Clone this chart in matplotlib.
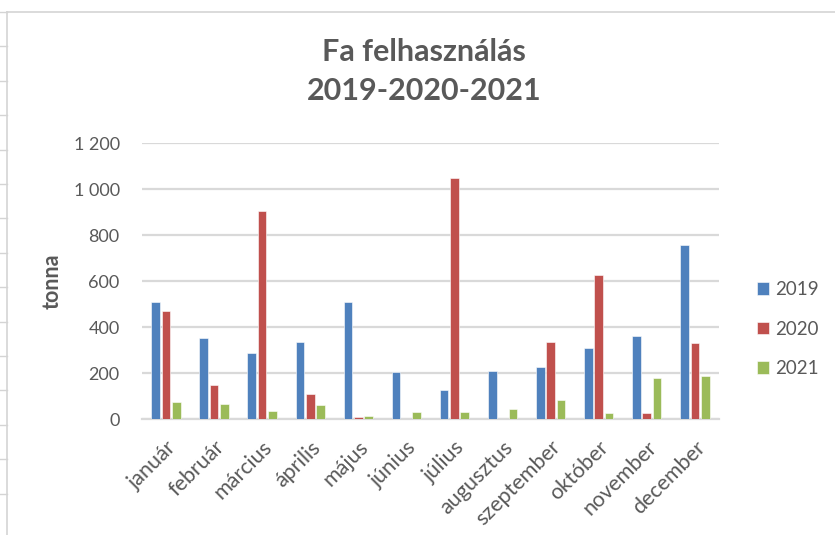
import numpy as np
import matplotlib
matplotlib.use("Agg")
import matplotlib.pyplot as plt
from matplotlib.lines import Line2D

plt.rcParams['font.family'] = ['Lato', 'DejaVu Sans']

# data (tonna)
honapok = ["január", "február", "március", "április", "május", "június",
           "július", "augusztus", "szeptember", "október", "november", "december"]
ev2019 = [510, 352, 288, 336, 510, 206, 126, 210, 226, 310, 362, 758]
ev2020 = [468, 146, 906, 110, 10, 0, 1049, 2, 336, 626, 26, 332]
ev2021 = [72, 67, 36, 62, 14, 30, 30, 42, 84, 24, 178, 188]
evek = ["2019", "2020", "2021"]
szinek = ["#4F81BD", "#C0504D", "#9BBB59"]
yticks = [0, 200, 400, 600, 800, 1000, 1200]

grey = "#595959"
gridc = "#D9D9D9"

fig = plt.figure(figsize=(8.35, 5.35), dpi=100)
ax = fig.add_axes([0.170, 0.2168, 0.691, 0.5159])

x = np.arange(len(honapok))
w = 0.18
step = 0.215
for i, (vals, nev, c) in enumerate(zip([ev2019, ev2020, ev2021], evek, szinek)):
    ax.bar(x + (i - 1) * step, vals, width=w, color=c, label=nev,
           edgecolor="white", linewidth=0.4, zorder=3)

ax.set_xlim(-0.5, len(honapok) - 0.5)
ax.set_ylim(0, 1200)
ax.set_yticks(yticks)
ax.set_yticklabels([f"{v:,}".replace(",", " ") for v in yticks])
ax.yaxis.grid(True, color=gridc, linewidth=1.6, zorder=0)
ax.set_axisbelow(True)
for s in ["top", "right", "left"]:
    ax.spines[s].set_visible(False)
ax.spines["bottom"].set_color(gridc)
ax.spines["bottom"].set_linewidth(1.6)
ax.tick_params(axis="both", length=0, colors=grey, labelsize=13)
ax.tick_params(axis="y", pad=16)
ax.set_xticks(x)
ax.set_xticklabels(honapok, rotation=45, ha="right", va="top",
                   rotation_mode="anchor", fontsize=15.5)
ax.tick_params(axis="x", pad=13)

ax.set_ylabel("tonna", fontsize=15.5, fontweight="bold", color=grey, labelpad=8)

fig.text(0.508, 1 - 52 / 535, "Fa felhasználás", ha="center", va="center",
         fontsize=22, fontweight="bold", color=grey)
fig.text(0.508, 1 - 91 / 535, "2019-2020-2021", ha="center", va="center",
         fontsize=22, fontweight="bold", color=grey)

ax.legend(loc="center left", bbox_to_anchor=(1.036, 0.326), frameon=False,
          fontsize=13.5, labelcolor=grey, handlelength=0.64, handleheight=0.64,
          handletextpad=0.35, labelspacing=1.2)

# spreadsheet cell borders around the chart object
fig.add_artist(Line2D([7 / 835, 7 / 835], [0, 1 - 12 / 535], color="#D4D4D4",
                      linewidth=1.2, transform=fig.transFigure))
fig.add_artist(Line2D([7 / 835, 1], [1 - 12 / 535, 1 - 12 / 535], color="#D4D4D4",
                      linewidth=1.2, transform=fig.transFigure))
for r in range(15):
    yy = 1 - (12 + r * 34.4) / 535
    fig.add_artist(Line2D([0, 7 / 835], [yy, yy], color="#D4D4D4",
                          linewidth=1.0, transform=fig.transFigure))

fig.savefig("out.png", dpi=100)
